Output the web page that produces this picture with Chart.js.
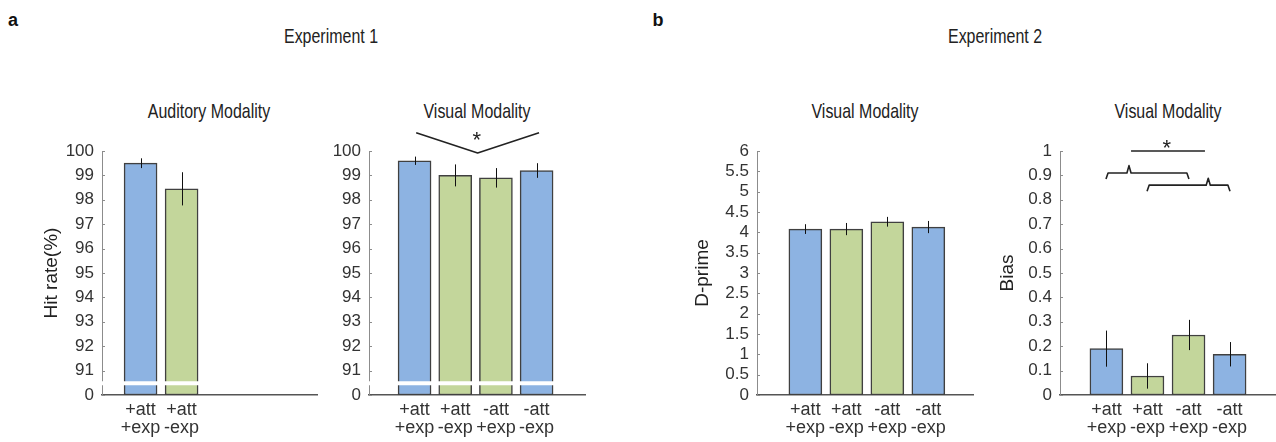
<!DOCTYPE html>
<html>
<head>
<meta charset="utf-8">
<script src="https://cdn.jsdelivr.net/npm/chart.js@4.4.1/dist/chart.umd.min.js"></script>
<style>
  body { margin: 0; background: #fff; }
  #fig { position: relative; width: 1276px; height: 442px; overflow: hidden; color: #222; }
  #fig canvas { position: absolute; top: 90px; }
  /* titles in the figure use a narrow face: squeeze Liberation Sans */
  .txt { position: absolute; white-space: nowrap; transform: translate(-50%, -50%) scaleX(0.76);
         font-family: "Liberation Sans", Arial, sans-serif; font-size: 21px; }
  .letter { position: absolute; transform: translate(-50%, -50%); font-family: "Liberation Sans", Arial, sans-serif;
            font-weight: bold; font-size: 18px; color: #111; }
</style>
</head>
<body>
<div id="fig">
  <div class="letter" style="left:13px;top:20px">a</div>
  <div class="letter" style="left:658px;top:20px">b</div>
  <div class="txt" style="left:331px;top:36px">Experiment 1</div>
  <div class="txt" style="left:995px;top:36px">Experiment 2</div>
  <div class="txt" style="left:209px;top:111px">Auditory Modality</div>
  <div class="txt" style="left:477px;top:111px">Visual Modality</div>
  <div class="txt" style="left:865px;top:111px">Visual Modality</div>
  <div class="txt" style="left:1168px;top:111px">Visual Modality</div>

  <canvas id="audChart" width="330" height="352" style="left:0px"></canvas>
  <canvas id="visChart" width="300" height="352" style="left:330px"></canvas>
  <canvas id="dprimeChart" width="340" height="352" style="left:650px"></canvas>
  <canvas id="biasChart" width="286" height="352" style="left:990px"></canvas>
</div>
<script>
// conditions (x tick labels, two lines each)
const conds = [['+att', '+exp'], ['+att', '-exp'], ['-att', '+exp'], ['-att', '-exp']];
const barColors = ['#8db3e2', '#c3d69b', '#c3d69b', '#8db3e2'];

// Experiment 1 : hit rate (%)
const audHit = [99.5, 98.45];
const audHitErr = [0.2, 0.68];
const visHit = [99.6, 99.0, 98.9, 99.2];
const visHitErr = [0.17, 0.45, 0.4, 0.3];
// axis is broken: the 90 position is labelled "0"
const hitTicks = [90, 91, 92, 93, 94, 95, 96, 97, 98, 99, 100];

// Experiment 2 : d-prime and bias
const dprime = [4.08, 4.08, 4.26, 4.13];
const dprimeErr = [0.12, 0.15, 0.12, 0.15];
const dprimeTicks = [0, 0.5, 1, 1.5, 2, 2.5, 3, 3.5, 4, 4.5, 5, 5.5, 6];
const bias = [0.19, 0.078, 0.246, 0.167];
const biasErr = [0.074, 0.052, 0.062, 0.05];
const biasTicks = [0, 0.1, 0.2, 0.3, 0.4, 0.5, 0.6, 0.7, 0.8, 0.9, 1];

const FONT = '"Liberation Sans", Arial, sans-serif';

// error bars, inward y ticks, axis break and significance marks
const extras = {
  id: 'extras',
  afterDraw(chart, args, opts) {
    const ctx = chart.ctx;
    const xs = chart.scales.x, ys = chart.scales.y;
    const area = chart.chartArea;
    const vals = opts.values, errs = opts.errors;
    ctx.save();

    // y tick marks (pointing inside)
    ctx.strokeStyle = '#8c8c8c';
    ctx.lineWidth = 1;
    ys.ticks.forEach(t => {
      const y = Math.round(ys.getPixelForValue(t.value)) + 0.5;
      ctx.beginPath();
      ctx.moveTo(area.left, y);
      ctx.lineTo(area.left + 3, y);
      ctx.stroke();
    });

    // error bars
    ctx.strokeStyle = '#111';
    ctx.lineWidth = 1;
    vals.forEach((v, i) => {
      const x = Math.round(xs.getPixelForValue(i + 1)) + 0.5;
      ctx.beginPath();
      ctx.moveTo(x, ys.getPixelForValue(v - errs[i]));
      ctx.lineTo(x, ys.getPixelForValue(v + errs[i]));
      ctx.stroke();
    });

    // axis break
    if (opts.breakAt != null) {
      const y = ys.getPixelForValue(opts.breakAt);
      const right = xs.getPixelForValue(vals.length) + 18;
      ctx.strokeStyle = '#fff';
      ctx.lineWidth = 4;
      ctx.beginPath();
      ctx.moveTo(area.left - 4, y);
      ctx.lineTo(right, y);
      ctx.stroke();
    }

    // significance lines
    ctx.strokeStyle = '#222';
    ctx.lineWidth = 1.6;
    ctx.lineJoin = 'round';
    (opts.lines || []).forEach(pts => {
      ctx.beginPath();
      pts.forEach((p, k) => {
        const px = xs.getPixelForValue(p[0]), py = ys.getPixelForValue(p[1]);
        if (k === 0) ctx.moveTo(px, py); else ctx.lineTo(px, py);
      });
      ctx.stroke();
    });
    ctx.fillStyle = '#222';
    ctx.font = '22px ' + FONT;
    ctx.textAlign = 'center';
    ctx.textBaseline = 'alphabetic';
    (opts.stars || []).forEach(p => {
      ctx.fillText('*', xs.getPixelForValue(p[0]), ys.getPixelForValue(p[1]) + 12);
    });
    ctx.restore();
  }
};

function brace(x0, x1, xc, y, drop, rise) {
  return [[x0, y - drop], [x0 + 0.05, y], [xc - 0.05, y], [xc, y + rise], [xc + 0.05, y], [x1 - 0.05, y], [x1, y - drop]];
}

function makePanel(id, o) {
  const n = o.values.length;
  return new Chart(document.getElementById(id), {
    type: 'bar',
    data: {
      datasets: [{
        data: o.values.map((v, i) => ({ x: i + 1, y: v })),
        backgroundColor: barColors.slice(0, n),
        borderColor: '#404040',
        borderWidth: 1.5,
        borderSkipped: false,
        barThickness: 33,
        base: o.base
      }]
    },
    options: {
      responsive: false,
      animation: false,
      devicePixelRatio: 1,
      layout: { padding: { top: 61, right: o.padRight, left: 0, bottom: 0 } },
      plugins: {
        legend: { display: false },
        tooltip: { enabled: false },
        extras: { values: o.values, errors: o.errors, breakAt: o.breakAt, lines: o.lines, stars: o.stars }
      },
      scales: {
        x: {
          type: 'linear',
          offset: false,
          min: o.xMin, max: o.xMax,
          grid: { display: false, drawTicks: false, offset: false },
          border: { display: true, color: '#555', width: 1.5 },
          afterBuildTicks: s => { s.ticks = conds.slice(0, n).map((c, i) => ({ value: i + 1 })); },
          ticks: {
            autoSkip: false, maxRotation: 0, padding: 6, color: '#333',
            font: { family: FONT, size: 18, lineHeight: 1 },
            callback: v => conds[v - 1]
          },
          afterFit: s => { s.height = 47; }
        },
        y: {
          min: o.yMin, max: o.yMax,
          grid: { display: false, drawTicks: false },
          border: { display: true, color: '#8c8c8c', width: 1 },
          afterBuildTicks: s => { s.ticks = o.ticks.map(v => ({ value: v })); },
          ticks: {
            autoSkip: false, padding: 8, color: '#333',
            font: { family: FONT, size: 17 },
            callback: o.tickLabel || (v => String(v))
          },
          title: {
            display: !!o.yTitle, text: o.yTitle, color: '#222',
            font: { family: FONT, size: 19 },
            padding: { top: o.titlePad || 0, bottom: 0 }
          },
          afterFit: s => { s.width = o.yWidth; }
        }
      }
    },
    plugins: [extras]
  });
}

makePanel('audChart', {
  values: audHit, errors: audHitErr, base: 90, breakAt: 90.48,
  yMin: 90, yMax: 100, ticks: hitTicks, tickLabel: v => v === 90 ? '0' : String(v),
  yTitle: 'Hit rate(%)', titlePad: 40, yWidth: 102, padRight: 13,
  xMin: 0.06, xMax: 5.3
});

makePanel('visChart', {
  values: visHit, errors: visHitErr, base: 90, breakAt: 90.48,
  yMin: 90, yMax: 100, ticks: hitTicks, tickLabel: v => v === 90 ? '0' : String(v),
  yWidth: 39, padRight: 45,
  xMin: -0.12, xMax: 5.19,
  lines: [[[1.04, 100.75], [2.55, 99.92], [4.06, 100.75]]],
  stars: [[2.53, 100.67]]
});

makePanel('dprimeChart', {
  values: dprime, errors: dprimeErr, base: 0,
  yMin: 0, yMax: 6, ticks: dprimeTicks,
  yTitle: 'D-prime', titlePad: 41, yWidth: 107, padRight: 17,
  xMin: -0.18, xMax: 5.09
});

makePanel('biasChart', {
  values: bias, errors: biasErr, base: 0,
  yMin: 0, yMax: 1, ticks: biasTicks,
  yTitle: 'Bias', titlePad: 6, yWidth: 70, padRight: 0,
  xMin: -0.13, xMax: 5.13,
  lines: [
    [[1.6, 1.0], [3.4, 1.0]],
    brace(0.99, 3.01, 1.55, 0.91, 0.025, 0.03),
    brace(1.99, 4.01, 3.48, 0.86, 0.025, 0.028)
  ],
  stars: [[2.47, 1.034]]
});
</script>
</body>
</html>
